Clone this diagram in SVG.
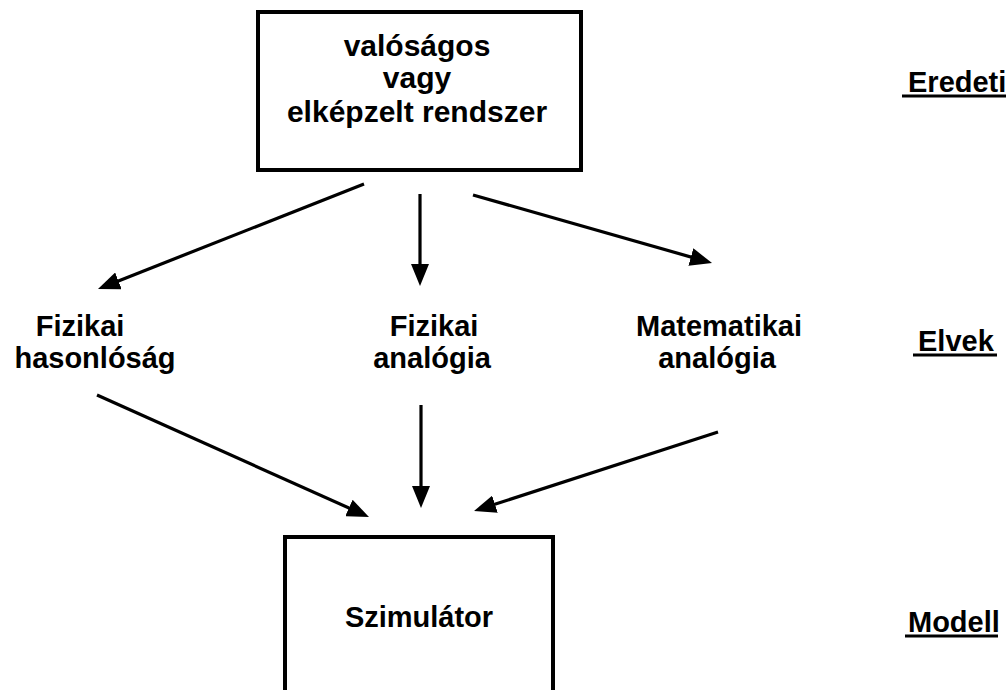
<svg xmlns="http://www.w3.org/2000/svg" width="1008" height="690" viewBox="0 0 1008 690">
<style>
text{font-family:"Liberation Sans",Arial,sans-serif;font-weight:bold;font-size:29px;fill:#000}
.big{font-size:30px}
.box{fill:#fff;stroke:#000;stroke-width:4}
.c{text-anchor:middle}
.conn line{stroke:#000;stroke-width:3.2;marker-end:url(#ah)}
.ul{stroke:#000;stroke-width:3}
</style>
<defs>
<marker id="ah" markerUnits="userSpaceOnUse" markerWidth="22" markerHeight="18" refX="15" refY="9" orient="auto">
<path d="M0,0 L22,9 L0,18 z" fill="#000"/>
</marker>
</defs>
<rect width="1008" height="690" fill="#fff"/>
<g id="eredeti-rendszer">
<rect class="box" x="258" y="12" width="323" height="158"/>
<text class="c big" x="417" y="56">valóságos</text>
<text class="c big" x="417" y="88">vagy</text>
<text class="c big" x="417" y="122">elképzelt rendszer</text>
</g>
<g id="fizikai-hasonlosag">
<text class="c" x="80" y="336">Fizikai</text>
<text class="c" x="95" y="368">hasonlóság</text>
</g>
<g id="fizikai-analogia">
<text class="c" x="434" y="336">Fizikai</text>
<text class="c" x="432" y="368">analógia</text>
</g>
<g id="matematikai-analogia">
<text class="c" x="719" y="336">Matematikai</text>
<text class="c" x="717" y="368">analógia</text>
</g>
<g id="szimulator">
<rect class="box" x="285" y="537" width="268" height="200"/>
<text class="c" x="419" y="627">Szimulátor</text>
</g>
<g id="label-eredeti">
<text x="908" y="92">Eredeti</text>
<line class="ul" x1="902" y1="96" x2="1006" y2="96"/>
</g>
<g id="label-elvek">
<text x="918" y="351">Elvek</text>
<line class="ul" x1="913" y1="355" x2="997" y2="355"/>
</g>
<g id="label-modell">
<text x="908" y="632">Modell</text>
<line class="ul" x1="905" y1="636" x2="998" y2="636"/>
</g>
<g id="connectors" class="conn">
<line x1="364" y1="184" x2="104.5" y2="286.4"/>
<line x1="420" y1="194" x2="420" y2="279"/>
<line x1="473" y1="195" x2="705.3" y2="261.1"/>
<line x1="97" y1="395" x2="362.6" y2="514.1"/>
<line x1="421" y1="405" x2="421" y2="501"/>
<line x1="718" y1="432" x2="480.7" y2="508.8"/>
</g>
</svg>
